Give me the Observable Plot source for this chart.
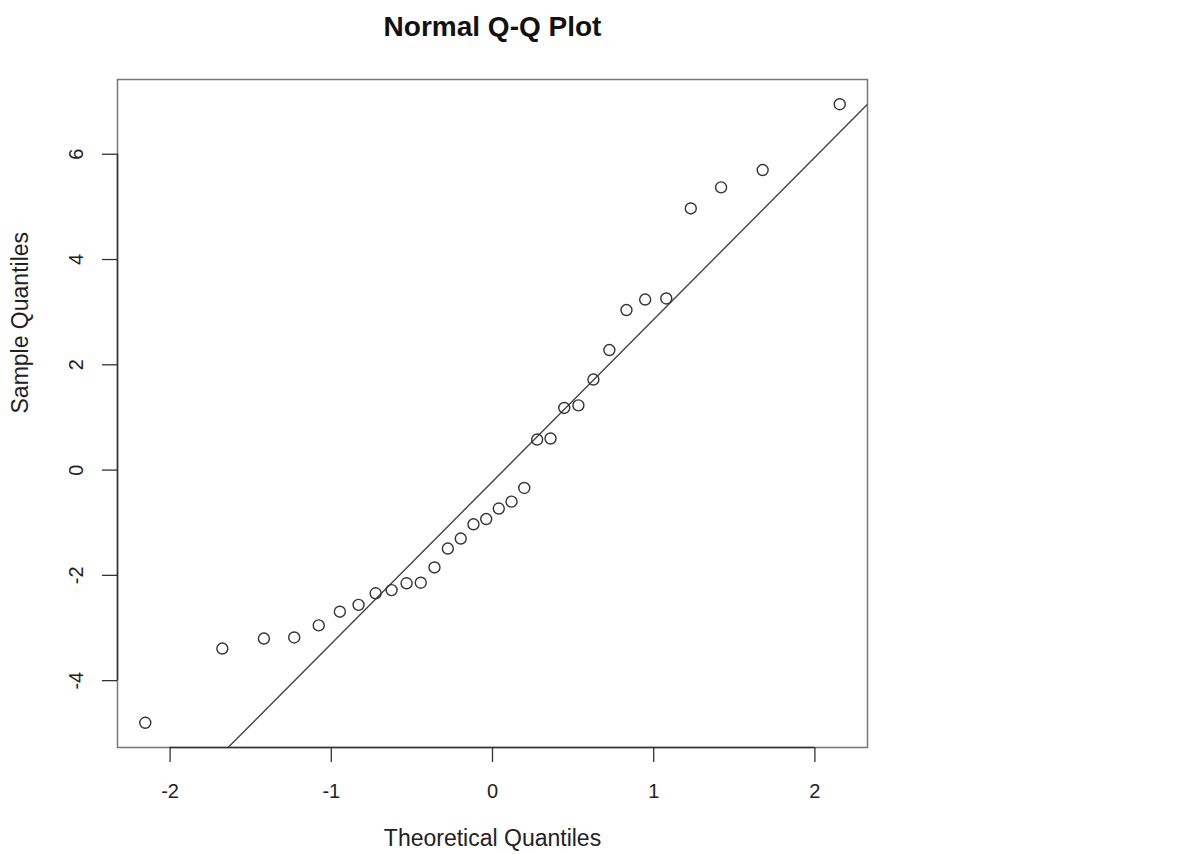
<!DOCTYPE html>
<html>
<head>
<meta charset="utf-8">
<script src="https://cdn.jsdelivr.net/npm/d3@7"></script>
<script src="https://cdn.jsdelivr.net/npm/@observablehq/plot@0.6"></script>
<style>
  html, body { margin: 0; padding: 0; background: #fff; }
</style>
</head>
<body>
<div id="chart"></div>
<script>
// Theoretical normal quantiles (x) and sorted sample quantiles (y)
const theoretical = [-2.154, -1.676, -1.418, -1.230, -1.078, -0.947, -0.831, -0.725,
  -0.626, -0.533, -0.445, -0.360, -0.277, -0.197, -0.118, -0.039,
  0.039, 0.118, 0.197, 0.277, 0.360, 0.445, 0.533, 0.626,
  0.725, 0.831, 0.947, 1.078, 1.230, 1.418, 1.676, 2.154];
const sample = [-4.80, -3.39, -3.20, -3.18, -2.95, -2.69, -2.56, -2.34,
  -2.28, -2.15, -2.14, -1.85, -1.49, -1.30, -1.03, -0.93,
  -0.73, -0.60, -0.34, 0.58, 0.60, 1.18, 1.23, 1.72,
  2.28, 3.04, 3.24, 3.26, 4.97, 5.37, 5.70, 6.95];
const quartileZ = [-0.6745, 0.6745];   // standard normal quartiles used by qqline
const xTicks = [-2, -1, 0, 1, 2];
const yTicks = [-4, -2, 0, 2, 4, 6];
const title = "Normal Q-Q Plot";
const xLabel = "Theoretical Quantiles";
const yLabel = "Sample Quantiles";

const points = theoretical.map((x, i) => ({x, y: sample[i]}));
const pad = ([a, b]) => [a - 0.04 * (b - a), b + 0.04 * (b - a)];
const xDomain = pad(d3.extent(theoretical));
const yDomain = pad(d3.extent(sample));

// Reference line through the first and third quartiles (like R's qqline)
const sorted = sample.slice().sort(d3.ascending);
const q1 = d3.quantileSorted(sorted, 0.25), q3 = d3.quantileSorted(sorted, 0.75);
const slope = (q3 - q1) / (quartileZ[1] - quartileZ[0]);
const intercept = q1 - slope * quartileZ[0];
const lineData = xDomain.map(x => ({x, y: intercept + slope * x}));

const font = '"Liberation Sans", Arial, Helvetica, sans-serif';
const fmt = d => String(d);

const chart = Plot.plot({
  width: 1190,
  height: 854,
  marginLeft: 117,
  marginRight: 323,
  marginTop: 79,
  marginBottom: 107,
  style: {fontFamily: font, fontSize: "20px", color: "#222", background: "#fff", overflow: "visible"},
  x: {domain: xDomain},
  y: {domain: yDomain},
  marks: [
    Plot.frame({stroke: "#777", strokeWidth: 1.5}),
    Plot.ruleY([yDomain[0]], {x1: xTicks[0], x2: xTicks[xTicks.length - 1], stroke: "#333", strokeWidth: 1.5}),
    Plot.ruleX([xDomain[0]], {y1: yTicks[0], y2: yTicks[yTicks.length - 1], stroke: "#333", strokeWidth: 1.5}),
    Plot.axisX(xTicks, {tickSize: 15, tickPadding: 21, tickFormat: fmt, stroke: "#333", strokeWidth: 1.3, fill: "#222", fontSize: 20, label: null}),
    Plot.axisY(yTicks, {tickSize: 15, tickPadding: 20, tickRotate: -90, tickFormat: fmt, stroke: "#333", strokeWidth: 1.3, fill: "#222", fontSize: 20, label: null}),
    Plot.line(lineData, {x: "x", y: "y", stroke: "#444", strokeWidth: 1.4, clip: true}),
    Plot.dot(points, {x: "x", y: "y", r: 5.5, stroke: "#333", strokeWidth: 1.4, fill: "none"}),
    Plot.text([title], {frameAnchor: "top", dy: -63, fontSize: 28, fontWeight: "bold", fill: "#111"}),
    Plot.text([xLabel], {frameAnchor: "bottom", dy: 98, fontSize: 23, fill: "#222"}),
    Plot.text([yLabel], {frameAnchor: "left", dx: -97, rotate: -90, fontSize: 23, fill: "#222"})
  ]
});
document.getElementById("chart").append(chart);
</script>
</body>
</html>
